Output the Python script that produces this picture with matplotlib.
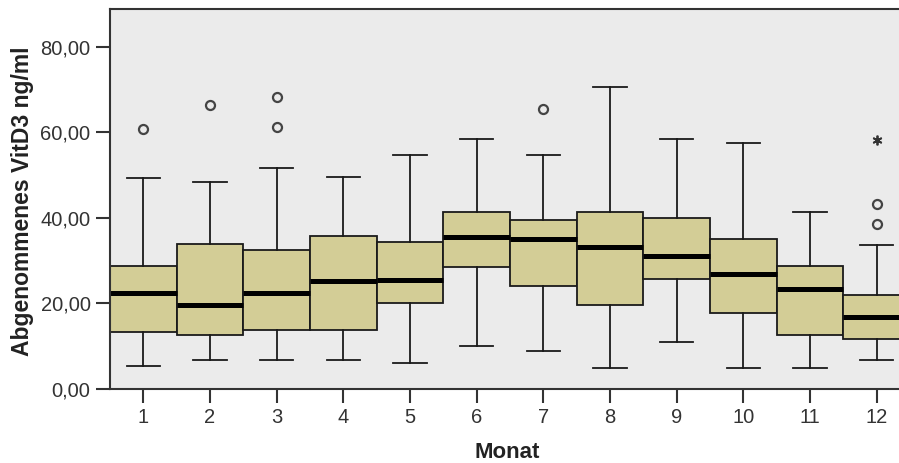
import numpy as np
import matplotlib
matplotlib.use("Agg")
import matplotlib.pyplot as plt

plt.rcParams['font.family'] = ['Liberation Sans', 'DejaVu Sans']

# Werte (SPSS Boxplot)
monate = [1, 2, 3, 4, 5, 6, 7, 8, 9, 10, 11, 12]
whisker_low = [5.4, 6.9, 6.9, 6.9, 6.0, 10.1, 8.8, 5.0, 11.1, 5.0, 5.0, 6.9]
q1 = [13.4, 12.6, 13.9, 13.9, 20.0, 28.6, 24.2, 19.6, 25.7, 17.7, 12.6, 11.6]
median = [22.4, 19.6, 22.4, 25.2, 25.6, 35.5, 35.0, 33.1, 31.2, 27.0, 23.3, 16.8]
q3 = [28.8, 33.9, 32.6, 35.9, 34.5, 41.5, 39.6, 41.5, 40.1, 35.0, 28.8, 21.9]
whisker_high = [49.4, 48.4, 51.7, 49.5, 54.7, 58.4, 54.7, 70.6, 58.4, 57.5, 41.5, 33.6]
ausreisser = [[60.7], [66.5], [68.2, 61.2], [], [], [], [65.5], [], [], [], [], [43.2, 38.6]]
extrem_monat = [12]
extrem_wert = [58.2]

stats = []
for i in range(len(monate)):
    stats.append({'whislo': whisker_low[i], 'q1': q1[i], 'med': median[i],
                  'q3': q3[i], 'whishi': whisker_high[i], 'fliers': ausreisser[i]})

fig = plt.figure(figsize=(8.99, 4.63), dpi=100)
ax = fig.add_axes([110/899, 1-389/463, 1-110/899, (389-8.5)/463])
ax.set_facecolor('#ebebeb')

ax.bxp(stats, positions=monate, widths=1.0, patch_artist=True,
       boxprops={'facecolor': '#d3cd96', 'edgecolor': '#1a1a1a', 'linewidth': 1.3},
       medianprops={'color': 'black', 'linewidth': 3.6, 'solid_capstyle': 'butt'},
       whiskerprops={'color': '#1a1a1a', 'linewidth': 1.3},
       capprops={'color': '#1a1a1a', 'linewidth': 1.3},
       flierprops={'marker': 'o', 'markersize': 6.5, 'markerfacecolor': 'none',
                   'markeredgecolor': '#444444', 'markeredgewidth': 1.6},
       capwidths=0.5)
ax.plot(extrem_monat, extrem_wert, linestyle='none', marker=(6, 2, 0), markersize=7,
        color='#333333', markeredgewidth=1.3)

ax.set_xlim(0.5, 12 + (899-876.7)/66.5)
ax.set_ylim(0, 89)
ax.set_yticks([0, 20, 40, 60, 80])
ax.set_yticklabels(['0,00', '20,00', '40,00', '60,00', '80,00'])
ax.set_xticks(monate)
ax.set_xticklabels([str(m) for m in monate])

for s in ['left', 'bottom', 'top']:
    ax.spines[s].set_color('#333333')
    ax.spines[s].set_linewidth(1.5)
ax.spines['right'].set_visible(False)
ax.tick_params(axis='both', length=10, width=1.5, color='#333333',
               labelsize=14.5, labelcolor='#333333', pad=4)

ax.set_ylabel('Abgenommenes VitD3 ng/ml', fontsize=16.5, fontweight='bold', color='#222222')
ax.set_xlabel('Monat', fontsize=16, fontweight='bold', color='#222222')
ax.xaxis.set_label_coords((507-110)/(899-110), -(442-389)/380.5)
ax.yaxis.set_label_coords(-(110-34)/789, (389-201)/(389-8.5))

fig.savefig('out.png', dpi=100)
